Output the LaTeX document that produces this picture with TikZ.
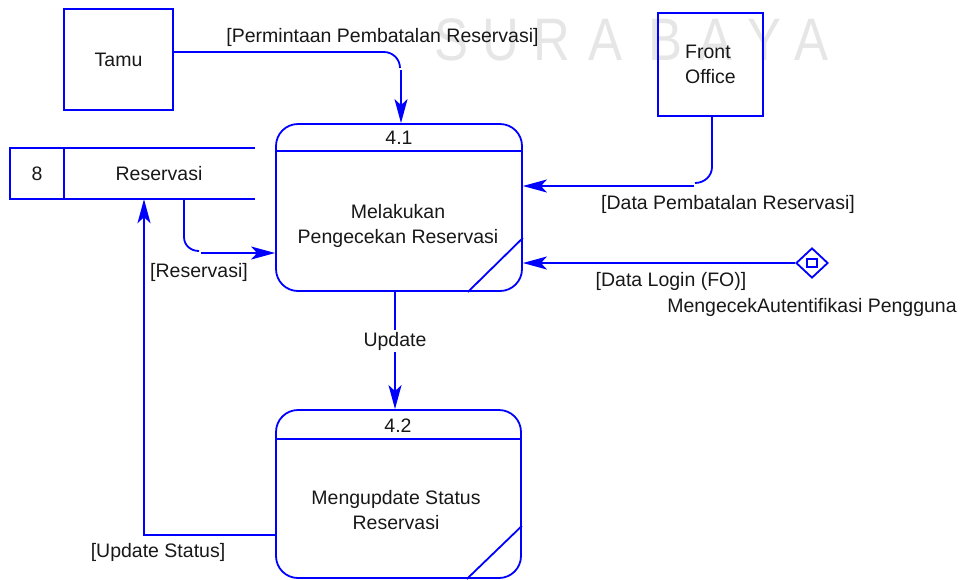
\documentclass[tikz,border=0pt]{standalone}
\usepackage{fontspec}
\usepackage{graphicx}
\setmainfont{Liberation Sans}
\usetikzlibrary{arrows.meta,shapes.geometric,calc}
\definecolor{dfdblue}{RGB}{0,0,255}
\definecolor{wmgray}{RGB}{230,230,230}
\definecolor{inkblack}{RGB}{24,24,24}
\newcommand{\wmglyph}[1]{\scalebox{0.85}[1]{#1}}
\begin{document}
\begin{tikzpicture}[x=1pt,y=-1pt,
  dfdline/.style={draw=dfdblue,line width=1.8pt},
  arrowflow/.style={dfdline,-{Stealth[length=24pt,width=13pt,inset=6pt]}},
  entity/.style={dfdline,rectangle,inner sep=0pt},
  proc/.style={dfdline,rectangle,rounded corners=22pt,minimum width=246pt,minimum height=167pt,inner sep=0pt},
  txt/.style={font=\fontsize{19.5}{25}\selectfont,text=inkblack,inner sep=0pt,text height=14pt,text depth=0pt},
  mtxt/.style={font=\fontsize{19.5}{25}\selectfont,text=inkblack,inner sep=0pt,align=center},
  wmletter/.style={font=\fontsize{60}{60}\selectfont,text=wmgray,inner sep=0pt,text height=43pt,text depth=0pt}
]
\useasboundingbox (0,0) rectangle (971,579);

% background lettering
\node[wmletter] (wm1) at (452,38.5) {\wmglyph{S}};
\node[wmletter] (wm2) at (501,38.5) {\wmglyph{U}};
\node[wmletter] (wm3) at (552,38.5) {\wmglyph{R}};
\node[wmletter] (wm4) at (605,38.5) {\wmglyph{A}};
\node[wmletter] (wm5) at (665,38.5) {\wmglyph{B}};
\node[wmletter] (wm6) at (715,38.5) {\wmglyph{A}};
\node[wmletter] (wm7) at (764,38.5) {\wmglyph{Y}};
\node[wmletter] (wm8) at (811,38.5) {\wmglyph{A}};

% external entities
\node[entity,txt,minimum width=109pt,minimum height=101pt] (tamu) at (118.5,59.5) {Tamu};
\node[entity,mtxt,align=left,minimum width=105pt,minimum height=103pt] (fo) at (710.5,64.5) {Front\\Office};

% data store
\node[minimum width=245pt,minimum height=51pt,inner sep=0pt] (store) at (132.5,173.5) {};
\draw[dfdline] (store.north east) -- (store.north west) -- (store.south west) -- (store.south east);
\draw[dfdline] ($(store.north west)+(54,0)$) -- ($(store.south west)+(54,0)$);
\node[txt] (storeid) at (37,173) {8};
\node[txt] (storename) at (159,173) {Reservasi};

% process 4.1
\node[proc] (p41) at (399,207.5) {};
\draw[dfdline] ($(p41.north west)+(0,28)$) -- ($(p41.north east)+(0,28)$);
\draw[dfdline] ($(p41.south east)+(0,-54)$) -- ($(p41.south east)+(-55,0)$);
\node[txt] (p41id) at (399,137.5) {4.1};
\node[mtxt] (p41name) at (398,225.5) {Melakukan\\Pengecekan Reservasi};

% process 4.2
\node[proc,minimum width=245pt,minimum height=168pt] (p42) at (398.5,494) {};
\draw[dfdline] ($(p42.north west)+(0,30)$) -- ($(p42.north east)+(0,30)$);
\draw[dfdline] ($(p42.south east)+(0,-53)$) -- ($(p42.south east)+(-55,0)$);
\node[txt] (p42id) at (398,425) {4.2};
\node[mtxt] (p42name) at (396,510.5) {Mengupdate Status\\Reservasi};

% authentication connector
\node[dfdline,diamond,minimum width=32pt,minimum height=30pt,inner sep=0pt] (auth) at (812,263) {};
\draw[dfdline,line width=1.5pt] ($(auth.center)+(-5,-4)$) rectangle ($(auth.center)+(5,4)$);
\node[txt] (authname) at (812,305) {MengecekAutentifikasi Pengguna};

% Tamu -> 4.1
\coordinate (f1turn) at (384,52);
\coordinate (f1drop) at (401,70);
\draw[dfdline] (tamu.east |- f1turn) -- (f1turn) .. controls (392.8,52) and (400,59.2) .. (400,68);
\draw[arrowflow] (f1drop) -- (f1drop |- p41.north);
\node[txt] (f1lbl) at (382.5,35.5) {[Permintaan Pembatalan Reservasi]};

% Front Office -> 4.1
\coordinate (f2turn) at (712,167);
\coordinate (f2run) at (694,186);
\draw[dfdline] (fo.south -| f2turn) -- (f2turn) .. controls (712,176) and (704.4,183) .. (695,183);
\draw[arrowflow] (f2run) -- (f2run -| p41.east);
\node[txt] (f2lbl) at (728,202) {[Data Pembatalan Reservasi]};

% Reservasi store -> 4.1
\coordinate (f3turn) at (184,237);
\coordinate (f3run) at (201,253);
\draw[dfdline] (store.south -| f3turn) -- (f3turn) .. controls (184,245.3) and (190.7,251) .. (199,251);
\draw[arrowflow] (f3run) -- (f3run -| p41.west);
\node[txt] (f3lbl) at (199,270) {[Reservasi]};

% authentication -> 4.1
\draw[arrowflow] (auth.west) -- (auth.west -| p41.east);
\node[txt] (f4lbl) at (671,279) {[Data Login (FO)]};

% 4.1 -> 4.2
\draw[arrowflow] ($(p41.south)+(-4,0)$) -- ($(p42.north)+(-3.5,0)$);
\node[txt,fill=white,inner sep=2pt,text depth=4pt] (f5lbl) at (395,341) {Update};

% 4.2 -> Reservasi store
\coordinate (f6) at (144,535);
\draw[arrowflow] (p42.west |- f6) -- (f6) -- (f6 |- store.south);
\node[txt] (f6lbl) at (158,550) {[Update Status]};
\end{tikzpicture}
\end{document}
